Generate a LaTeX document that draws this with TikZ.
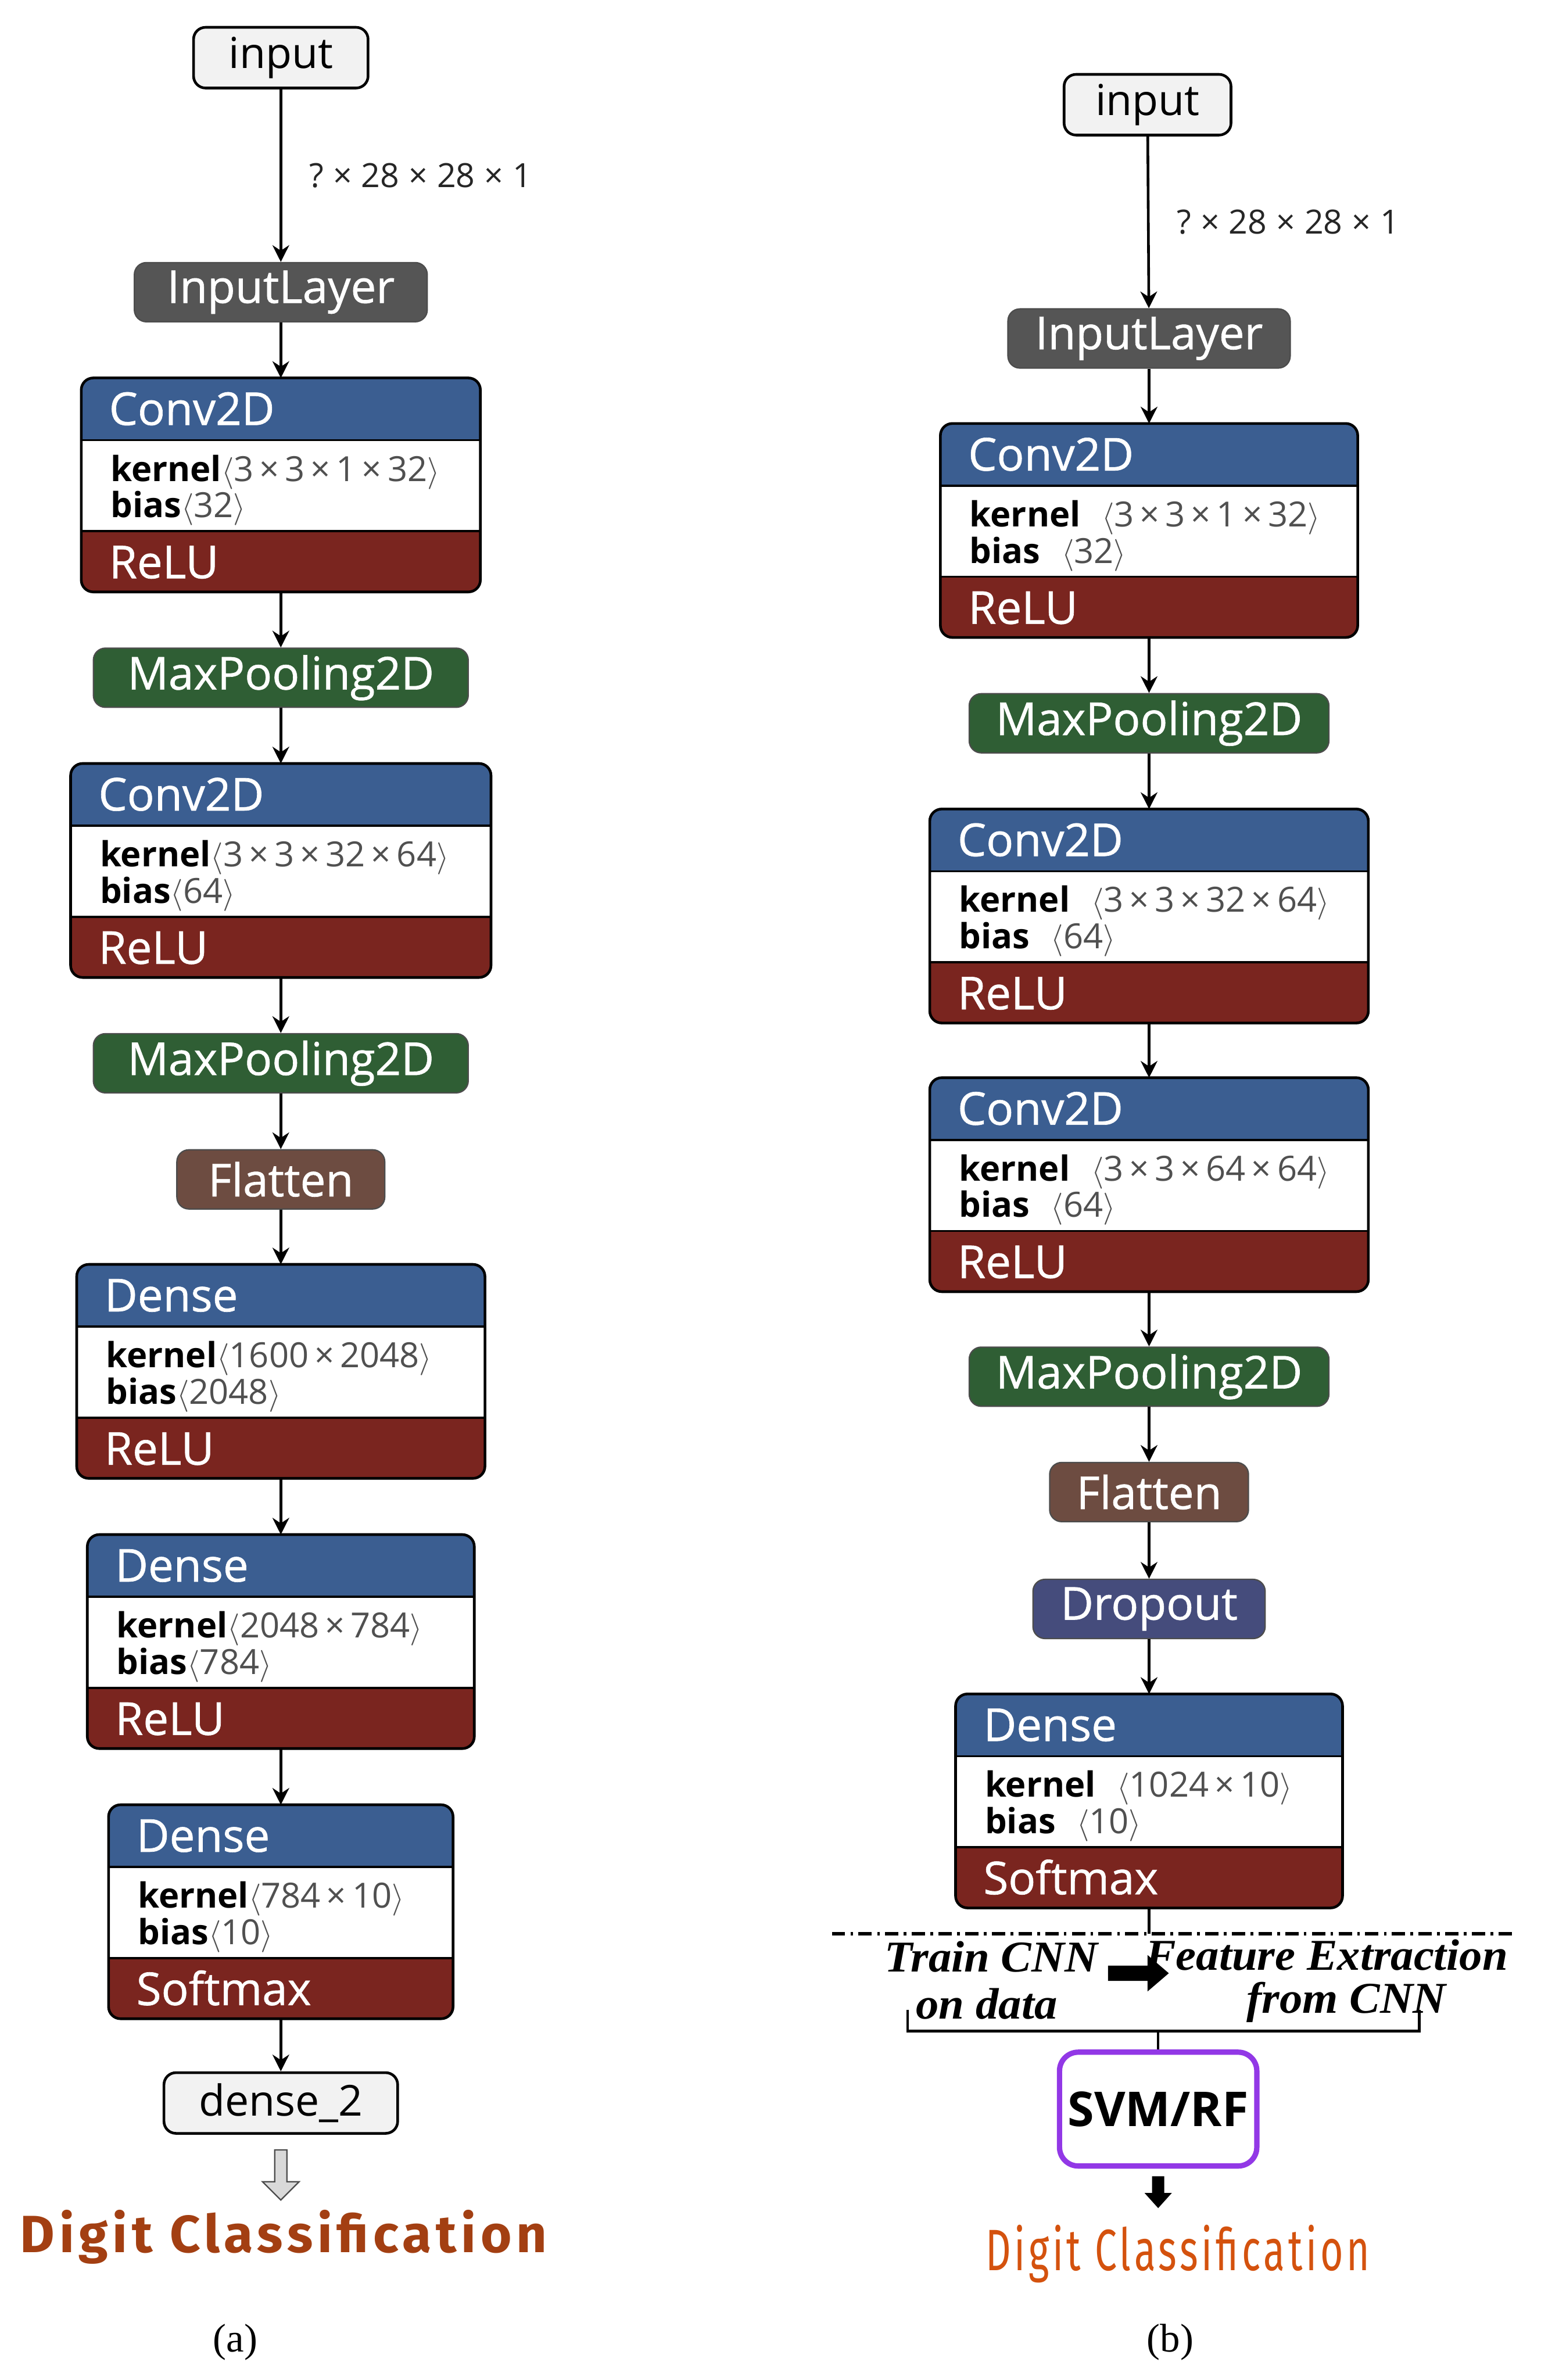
\documentclass[tikz,border=0pt]{standalone}
\usepackage{fontspec}
\setmainfont{Open Sans}
\newfontfamily\titlefont[FakeBold=0.8]{Open Sans}
\newfontfamily\capfont{Liberation Serif}
\newfontfamily\notefont[FakeStretch=1.04]{Liberation Serif}
\newfontfamily\digitfont[FakeStretch=0.72, LetterSpace=6]{Fira Sans}
\usepackage{graphicx}
\usepackage{xcolor}
\usepackage{tikz}
\usetikzlibrary{arrows.meta, positioning}

\definecolor{hdrblue}{HTML}{3B5E91}
\definecolor{actred}{HTML}{7A251F}
\definecolor{iogray}{HTML}{F2F2F2}
\definecolor{inlayer}{HTML}{555555}
\definecolor{poolgreen}{HTML}{2F5E34}
\definecolor{flatbrown}{HTML}{6D4C41}
\definecolor{dropblue}{HTML}{454C7C}
\definecolor{paramgray}{HTML}{505050}
\definecolor{digitbrown}{HTML}{A33F12}
\definecolor{digitorange}{HTML}{D4520E}
\definecolor{svmpurple}{HTML}{9238E6}

% Conv2D / Dense block: name, x centre, y top, width, title, kernel, bias, activation
\newcommand{\layerblock}[8]{%
  \node[layerbox, minimum width=#4, anchor=north] (#1) at (#2,#3) {};
  \begin{scope}
    \clip[rounded corners=4.5pt] (#1.north west) rectangle (#1.south east);
    \fill[white] ([yshift=0.8cm]#1.south west) rectangle ([yshift=2cm]#1.south east);
    \fill[actred] (#1.south west) rectangle ([yshift=0.8cm]#1.south east);
  \end{scope}
  \draw[line width=0.8pt] ([yshift=0.8cm]#1.south west) -- ([yshift=0.8cm]#1.south east)
    ([yshift=2cm]#1.south west) -- ([yshift=2cm]#1.south east);
  \draw[line width=1pt, rounded corners=4.5pt] (#1.north west) rectangle (#1.south east);
  \node[hdrtext, anchor=base west] (#1-title) at ([xshift=0.36cm, yshift=-0.62cm]#1.north west) {#5};
  \node[paramtext, anchor=base west] (#1-kernel) at ([xshift=0.38cm, yshift=-1.36cm]#1.north west) {\textbf{kernel}{\color{paramgray}#6}};
  \node[paramtext, anchor=base west] (#1-bias) at ([xshift=0.38cm, yshift=-1.84cm]#1.north west) {\textbf{bias}{\color{paramgray}#7}};
  \node[hdrtext, anchor=base west] (#1-act) at ([xshift=0.36cm, yshift=-2.64cm]#1.north west) {#8};
}

\begin{document}
\begin{tikzpicture}[x=0.02cm, y=-0.02cm,
    iobox/.style={draw, line width=1pt, fill=iogray, rounded corners=4.5pt, minimum height=0.8cm, inner sep=0, font=\fontsize{16}{18}\selectfont},
    smallbox/.style={draw=black!70, line width=0.5pt, rounded corners=4.5pt, minimum height=0.78cm, inner sep=0, text=white, font=\titlefont\fontsize{17}{20}\selectfont},
    layerbox/.style={fill=hdrblue, rounded corners=4.5pt, minimum height=2.82cm, inner sep=0, outer sep=0},
    hdrtext/.style={text=white, inner sep=0, font=\titlefont\fontsize{17}{20}\selectfont},
    paramtext/.style={inner sep=0, font=\fontsize{13}{15}\selectfont},
    shapelbl/.style={inner sep=0, text=black!85, font=\fontsize{12.5}{15}\selectfont},
    notetext/.style={inner sep=0, font=\notefont\bfseries\itshape\fontsize{16.5}{18}\selectfont},
    arr/.style={-{Stealth[length=2.2mm, width=2.2mm]}, line width=1pt},
    cutline/.style={line width=1.2pt, dash pattern=on 5pt off 2pt on 1pt off 2pt},
]
\useasboundingbox (0,0) rectangle (1015,1568);

% (a) CNN classifier
\node[iobox, minimum width=2.3cm] (inA) at (185,38) {input};
\node[smallbox, fill=inlayer, minimum width=3.86cm] (ilA) at (185,192.5) {InputLayer};
\layerblock{convA1}{185}{249}{5.26cm}{Conv2D}{$\langle$3\,×\,3\,×\,1\,×\,32$\rangle$}{$\langle$32$\rangle$}{ReLU}
\node[smallbox, fill=poolgreen, minimum width=4.94cm] (poolA1) at (185,446.5) {MaxPooling2D};
\layerblock{convA2}{185}{503}{5.54cm}{Conv2D}{$\langle$3\,×\,3\,×\,32\,×\,64$\rangle$}{$\langle$64$\rangle$}{ReLU}
\node[smallbox, fill=poolgreen, minimum width=4.94cm] (poolA2) at (185,700.5) {MaxPooling2D};
\node[smallbox, fill=flatbrown, minimum width=2.74cm] (flatA) at (185,777) {Flatten};
\layerblock{denseA1}{185}{833}{5.38cm}{Dense}{$\langle$1600\,×\,2048$\rangle$}{$\langle$2048$\rangle$}{ReLU}
\layerblock{denseA2}{185}{1011}{5.1cm}{Dense}{$\langle$2048\,×\,784$\rangle$}{$\langle$784$\rangle$}{ReLU}
\layerblock{denseA3}{185}{1189}{4.54cm}{Dense}{$\langle$784\,×\,10$\rangle$}{$\langle$10$\rangle$}{Softmax}
\node[iobox, minimum width=3.08cm] (outA) at (185,1385.5) {dense\_2};

\draw[arr] (inA) -- node[shapelbl, right=0.36cm] {?\;×\;28\;×\;28\;×\;1} (ilA);
\draw[arr] (ilA) -- (convA1);
\draw[arr] (convA1) -- (poolA1);
\draw[arr] (poolA1) -- (convA2);
\draw[arr] (convA2) -- (poolA2);
\draw[arr] (poolA2) -- (flatA);
\draw[arr] (flatA) -- (denseA1);
\draw[arr] (denseA1) -- (denseA2);
\draw[arr] (denseA2) -- (denseA3);
\draw[arr] (denseA3) -- (outA);

\begin{scope}[shift={(outA.south)}]
  \filldraw[fill=gray!30, draw=gray!60!black, line width=0.5pt] (-4,10) -- (4,10) -- (4,31) -- (12,31) -- (0,43) -- (-12,31) -- (-4,31) -- cycle;
\end{scope}
\node[anchor=base west, inner sep=0, text=digitbrown] (digitA) at (13,1484) {\resizebox{6.94cm}{0.56cm}{\digitfont\bfseries Digit Classification}};
\node[font=\capfont\fontsize{15}{18}\selectfont] (capA) at (155,1543) {(a)};

% (b) CNN features + SVM/RF
\node[iobox, minimum width=2.2cm] (inB) at (756,69) {input};
\node[smallbox, fill=inlayer, minimum width=3.72cm] (ilB) at (757,223) {InputLayer};
\layerblock{convB1}{757}{279}{5.5cm}{Conv2D}{\hspace{0.28cm}$\langle$3\,×\,3\,×\,1\,×\,32$\rangle$}{\hspace{0.28cm}$\langle$32$\rangle$}{ReLU}
\node[smallbox, fill=poolgreen, minimum width=4.74cm] (poolB1) at (757,476.5) {MaxPooling2D};
\layerblock{convB2}{757}{533}{5.78cm}{Conv2D}{\hspace{0.28cm}$\langle$3\,×\,3\,×\,32\,×\,64$\rangle$}{\hspace{0.28cm}$\langle$64$\rangle$}{ReLU}
\layerblock{convB3}{757}{710}{5.78cm}{Conv2D}{\hspace{0.28cm}$\langle$3\,×\,3\,×\,64\,×\,64$\rangle$}{\hspace{0.28cm}$\langle$64$\rangle$}{ReLU}
\node[smallbox, fill=poolgreen, minimum width=4.74cm] (poolB2) at (757,907) {MaxPooling2D};
\node[smallbox, fill=flatbrown, minimum width=2.62cm] (flatB) at (757,983) {Flatten};
\node[smallbox, fill=dropblue, minimum width=3.06cm] (dropB) at (757,1060) {Dropout};
\layerblock{denseB}{757}{1116}{5.1cm}{Dense}{\hspace{0.28cm}$\langle$1024\,×\,10$\rangle$}{\hspace{0.28cm}$\langle$10$\rangle$}{Softmax}

\draw[arr] (inB) -- node[shapelbl, right=0.36cm] {?\;×\;28\;×\;28\;×\;1} (ilB);
\draw[arr] (ilB) -- (convB1);
\draw[arr] (convB1) -- (poolB1);
\draw[arr] (poolB1) -- (convB2);
\draw[arr] (convB2) -- (convB3);
\draw[arr] (convB3) -- (poolB2);
\draw[arr] (poolB2) -- (flatB);
\draw[arr] (flatB) -- (dropB);
\draw[arr] (dropB) -- (denseB);

\coordinate (cutB) at (757,1274);
\draw[line width=1pt] (denseB) -- (cutB);
\draw[cutline] (548,1274) -- (998,1274);

\node[notetext] (trainB) at (653,1289) {Train CNN};
\node[notetext] (dataB) at (650,1320) {on data};
\node[notetext] (featB) at (874,1288) {Feature Extraction};
\node[notetext] (fromB) at (887,1319) {from CNN};
\fill (730,1295) -- (756,1295) -- (756,1288) -- (770,1300) -- (756,1312) -- (756,1305) -- (730,1305) -- cycle;

\draw[line width=1pt] (598,1324) |- (935,1338) -- (935,1324);
\coordinate (brkB) at (763,1338);
\node[draw=svmpurple, line width=2pt, rounded corners=7pt, minimum width=2.6cm, minimum height=1.5cm, inner sep=0, font=\bfseries\fontsize{18}{20}\selectfont] (svmB) at (763,1389.5) {SVM/RF};
\draw[line width=1pt] (brkB) -- (svmB);
\begin{scope}[shift={(svmB.south)}]
  \fill (-4,5) -- (4,5) -- (4,16) -- (9,16) -- (0,26) -- (-9,16) -- (-4,16) -- cycle;
\end{scope}
\node[anchor=base west, inner sep=0, text=digitorange] (digitB) at (649,1496) {\resizebox{5.06cm}{0.6cm}{\digitfont Digit Classification}};
\node[font=\capfont\fontsize{15}{18}\selectfont] (capB) at (771,1543) {(b)};

\end{tikzpicture}
\end{document}
